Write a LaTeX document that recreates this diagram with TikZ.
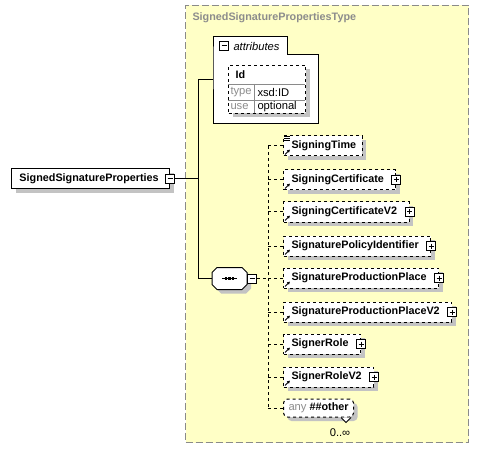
\documentclass[tikz,border=0pt]{standalone}
\usepackage{fontspec}
\setmainfont{Liberation Sans}
\usepackage{tikz}
\usetikzlibrary{shadows,arrows.meta,positioning}
\definecolor{typefill}{HTML}{FFFFC6}
\definecolor{typeedge}{HTML}{8A8A8A}
\definecolor{shadowgray}{HTML}{C3C3C3}
\definecolor{softtext}{HTML}{8C8C8C}
\newcommand{\bfont}{\fontsize{10.8}{13}\selectfont\bfseries}
\newcommand{\rfont}{\fontsize{11.2}{13}\selectfont}

\begin{document}
\begin{tikzpicture}[x=1pt, y=-1pt, line width=1pt,
    boxshadow/.style={drop shadow={shadow xshift=4pt, shadow yshift=-4pt, fill=shadowgray, opacity=1}},
    elem/.style={draw, fill=white, boxshadow, anchor=west, minimum height=20pt, inner xsep=8pt, inner ysep=0pt, font=\bfont},
    refelem/.style={elem, dashed, path picture={\draw[solid, line width=1pt, -{Latex[length=3pt,width=3.5pt]}] ([xshift=1.5pt,yshift=1.5pt]path picture bounding box.south west) -- ++(5pt,5pt);}},
    padright/.style={execute at end node=\hspace*{#1}},
    minusbox/.style={draw, solid, fill=white, minimum size=9pt, inner sep=0pt, path picture={\draw[solid] ([xshift=2pt]path picture bounding box.west) -- ([xshift=-2pt]path picture bounding box.east);}},
    plusbox/.style={draw, solid, fill=white, minimum size=9pt, inner sep=0pt, path picture={\draw[solid] ([xshift=2pt]path picture bounding box.west) -- ([xshift=-2pt]path picture bounding box.east); \draw[solid] ([yshift=-2pt]path picture bounding box.north) -- ([yshift=2pt]path picture bounding box.south);}},
  ]
  \useasboundingbox (0,0) rectangle (479,457);

  \node[draw=typeedge, fill=typefill, dash pattern=on 7pt off 3pt, minimum width=283pt, minimum height=437pt, anchor=north west, inner sep=0] (ctype) at (185,5) {};
  \node[anchor=west, font=\bfont, text=softtext, inner sep=0] (ctitle) at (192,18) {SignedSignaturePropertiesType};

  \node[minimum width=104pt, minimum height=68pt, anchor=north west, inner sep=0] (attrs) at (213,55) {};
  \node[minimum width=73pt, minimum height=18pt, anchor=north west, inner sep=0] (attrtab) at (213,37) {};
  \draw[fill=white] (attrtab.south west) |- (attrtab.north east) |- (attrs.north east) |- (attrs.south west) -- cycle;
  \node[minusbox] (attrm) at (224,46) {};
  \node[anchor=west, font=\rfont\itshape, inner sep=0] (attrlbl) at (233,46) {attributes};

  \node[draw, dashed, fill=white, boxshadow, minimum width=77pt, minimum height=48pt, anchor=north west, inner sep=0] (idbox) at (228,65) {};
  \draw[typeedge, line width=0.7pt] (228,84) -- (305,84);
  \draw[typeedge, line width=0.7pt] (228,100.5) -- (305,100.5);
  \draw[typeedge, line width=0.7pt] (254,84) -- (254,113);
  \node[anchor=west, font=\bfont, inner sep=0] (idname) at (235,75) {Id};
  \node[anchor=west, font=\rfont, text=softtext, inner sep=0] (idtype) at (230,92) {type};
  \node[anchor=west, font=\rfont, inner sep=0] (idtypev) at (257,92) {xsd:ID};
  \node[anchor=west, font=\rfont, text=softtext, inner sep=0] (iduse) at (230,106.5) {use};
  \node[anchor=west, font=\rfont, inner sep=0] (idusev) at (257,106.5) {optional};

  \node[elem, padright=3pt] (ssp) at (11,179) {SignedSignatureProperties};
  \node[minusbox] (sspm) at (ssp.east) {};

  \node[minimum width=34pt, minimum height=21pt, inner sep=0, anchor=west] (seq) at (212,278.5) {};
  \draw[fill=white, boxshadow] ([xshift=5pt]seq.north west) -- ([xshift=-5pt]seq.north east)
    -- ([yshift=-5pt]seq.north east) -- ([yshift=5pt]seq.south east)
    -- ([xshift=-5pt]seq.south east) -- ([xshift=5pt]seq.south west)
    -- ([yshift=5pt]seq.south west) -- ([yshift=-5pt]seq.north west) -- cycle;
  \draw ([xshift=-7.5pt]seq.center) -- ([xshift=7.5pt]seq.center);
  \foreach \dx in {-3.5,0,3.5}
    \fill ([xshift=\dx pt]seq.center) ++(-1.3pt,-1.3pt) rectangle ++(2.6pt,2.6pt);
  \node[minusbox, anchor=west] (seqm) at (seq.east) {};

  \node[refelem, padright=-2pt] (stime) at (283,146) {SigningTime};
  \foreach \dy in {0,2,4}
    \draw[line width=0.6pt] ([xshift=1pt,yshift={-1pt-\dy pt}]stime.north west) -- ++(6pt,0);
  \node[refelem, padright=4pt] (scert) at (283,180) {SigningCertificate};
  \node[plusbox] (scertp) at (scert.east) {};
  \node[refelem, padright=4pt] (scert2) at (283,212) {SigningCertificateV2};
  \node[plusbox] (scert2p) at (scert2.east) {};
  \node[refelem, padright=4pt] (spolicy) at (283,246) {SignaturePolicyIdentifier};
  \node[plusbox] (spolicyp) at (spolicy.east) {};
  \node[refelem, padright=4pt] (splace) at (283,278) {SignatureProductionPlace};
  \node[plusbox] (splacep) at (splace.east) {};
  \node[refelem, padright=4pt] (splace2) at (283,312) {SignatureProductionPlaceV2};
  \node[plusbox] (splace2p) at (splace2.east) {};
  \node[refelem, padright=4pt] (srole) at (283,344) {SignerRole};
  \node[plusbox] (srolep) at (srole.east) {};
  \node[refelem, padright=4pt] (srole2) at (283,377) {SignerRoleV2};
  \node[plusbox] (srole2p) at (srole2.east) {};

  \node[draw, dashed, fill=white, boxshadow, rounded corners=4pt, anchor=west, minimum height=18pt, inner xsep=5pt, inner ysep=0pt, font=\bfont] (other) at (283,408) {{\rfont\mdseries\color{softtext}any} \#\#other};
  \draw[fill=white] ([xshift=58pt]other.south west) -- ++(5pt,-5pt) -- ++(5pt,5pt);
  \node[font=\rfont, inner sep=0] (otherocc) at (340,433) {0..∞};

  \coordinate (spine) at (198,80);
  \coordinate (rail) at (268,278.5);
  \draw (attrs.west |- spine) -- (spine) -- (spine |- seq.west) -- (seq.west);
  \draw (sspm.east) -- (spine |- sspm.east);
  \draw[dashed] (seqm.east) -- (rail);
  \draw[dashed] (rail |- stime.west) -- (rail |- other.west);
  \foreach \kid in {stime,scert,scert2,spolicy,splace,splace2,srole,srole2,other}
    \draw[dashed] (rail |- \kid.west) -- (\kid.west);
\end{tikzpicture}
\end{document}
